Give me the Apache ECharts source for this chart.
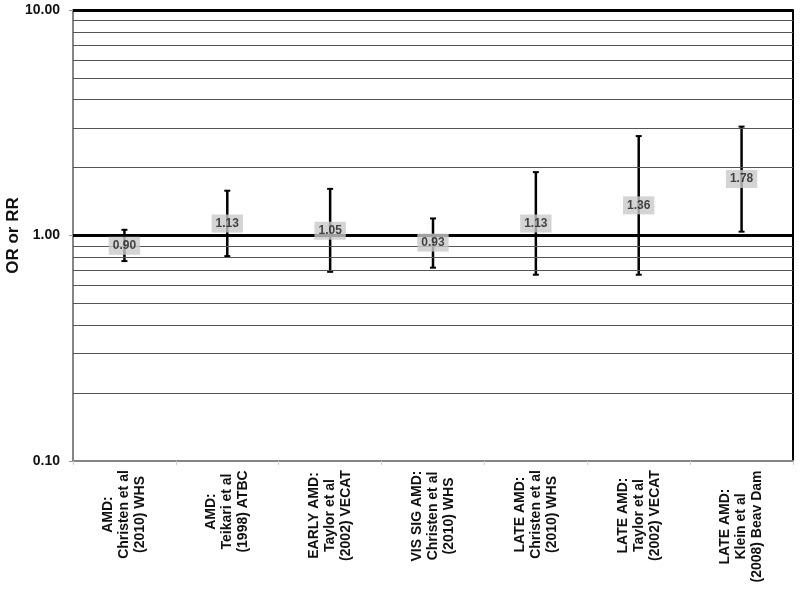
<!DOCTYPE html>
<html>
<head>
<meta charset="utf-8">
<script src="https://cdn.jsdelivr.net/npm/echarts@6/dist/echarts.min.js"></script>
<style>
html,body{margin:0;padding:0;background:#fff;}
#chart{width:800px;height:589px;}
</style>
</head>
<body>
<div id="chart"></div>
<script>
// ---- data ----
const categories = [
  "AMD:\nChristen et al\n(2010) WHS",
  "AMD:\nTeikari et al\n(1998) ATBC",
  "EARLY AMD:\nTaylor et al\n(2002) VECAT",
  "VIS SIG AMD:\nChristen et al\n(2010) WHS",
  "LATE AMD:\nChristen et al\n(2010) WHS",
  "LATE AMD:\nTaylor et al\n(2002) VECAT",
  "LATE AMD:\nKlein et al\n(2008) Beav Dam"
];
const estimates = [0.90, 1.13, 1.05, 0.93, 1.13, 1.36, 1.78];
const lowerCI   = [0.77, 0.81, 0.69, 0.72, 0.67, 0.67, 1.04];
const upperCI   = [1.06, 1.58, 1.61, 1.19, 1.91, 2.76, 3.04];
const minorGrid = [0.2, 0.3, 0.4, 0.5, 0.6, 0.7, 0.8, 0.9, 2, 3, 4, 5, 6, 7, 8, 9];
const majorGrid = [1, 10];
const yAxisName = "OR or RR";

// ---- rendering ----
const FONT = '"Liberation Sans", Arial, Helvetica, sans-serif';
const ctx = document.createElement('canvas').getContext('2d');
ctx.font = 'bold 14px ' + FONT;
const rich = {};
categories.forEach((c, i) => {
  const w = Math.max(...c.split('\n').map(l => ctx.measureText(l).width));
  rich['c' + i] = {
    width: Math.ceil(w), align: 'center', fontSize: 14, fontWeight: 'bold',
    fontFamily: FONT, color: '#111', lineHeight: 16
  };
});

const chart = echarts.init(document.getElementById('chart'), null, {renderer: 'canvas'});
const option = {
  animation: false,
  backgroundColor: '#fff',
  grid: {left: 73, right: 7, top: 10, bottom: 128, containLabel: false, outerBoundsMode: 'none'},
  xAxis: {
    type: 'category',
    data: categories,
    boundaryGap: true,
    axisLine: {lineStyle: {color: '#858585', width: 2}},
    axisTick: {show: true, length: 4, lineStyle: {color: '#cfcfcf', width: 1}},
    axisLabel: {
      rotate: 90, margin: 9, interval: 0,
      formatter: (v, i) => v.split('\n').map(l => '{c' + i + '|' + l + '}').join('\n'),
      rich: rich
    },
    splitLine: {show: false}
  },
  yAxis: [{
    type: 'log', logBase: 10, min: 0.1, max: 10, interval: 1,
    name: yAxisName, nameLocation: 'middle', nameRotate: 90, nameGap: 51,
    nameMoveOverlap: false,
    nameTextStyle: {fontSize: 17, fontWeight: 'bold', fontFamily: FONT, color: '#111'},
    axisLine: {show: true, lineStyle: {color: '#858585', width: 2}},
    axisTick: {show: true, length: 4, lineStyle: {color: '#999', width: 1}},
    axisLabel: {
      margin: 13, fontSize: 14, fontWeight: 'bold', fontFamily: FONT, color: '#111',
      formatter: v => Number(v).toFixed(2)
    },
    splitLine: {show: false}
  }, {
    type: 'log', logBase: 10, min: 0.1, max: 10, interval: 1, position: 'right',
    axisLine: {show: true, lineStyle: {color: '#000', width: 2}},
    axisTick: {show: false}, axisLabel: {show: false}, splitLine: {show: false}
  }],
  series: [
    {
      type: 'line', data: [], z: 1, silent: true,
      markLine: {
        silent: true, symbol: ['none', 'none'], label: {show: false}, animation: false,
        data: minorGrid.map(v => ({yAxis: v, lineStyle: {color: '#555', width: 1, type: 'solid'}}))
          .concat(majorGrid.map(v => ({yAxis: v, lineStyle: {color: '#000', width: 3, type: 'solid'}})))
      }
    },
    {
      type: 'custom', z: 3, silent: true,
      data: categories.map((c, i) => [i, lowerCI[i], upperCI[i]]),
      renderItem: (params, api) => {
        const lo = api.coord([api.value(0), api.value(1)]);
        const hi = api.coord([api.value(0), api.value(2)]);
        const cap = 3;
        const st = {stroke: '#000', lineWidth: 2.5};
        return {
          type: 'group',
          children: [
            {type: 'line', shape: {x1: hi[0], y1: hi[1], x2: lo[0], y2: lo[1]}, style: st},
            {type: 'line', shape: {x1: hi[0] - cap, y1: hi[1], x2: hi[0] + cap, y2: hi[1]}, style: {stroke: '#000', lineWidth: 2}},
            {type: 'line', shape: {x1: lo[0] - cap, y1: lo[1], x2: lo[0] + cap, y2: lo[1]}, style: {stroke: '#000', lineWidth: 2}}
          ]
        };
      }
    },
    {
      type: 'scatter', z: 5, silent: true,
      data: categories.map((c, i) => [i, estimates[i]]),
      symbolSize: 0,
      label: {
        show: true, position: 'inside',
        formatter: p => p.value[1].toFixed(2),
        fontSize: 12, fontWeight: 'bold', fontFamily: FONT, color: '#1a1a1a',
        backgroundColor: '#c9c9c9', padding: [3, 4, 2, 4], lineHeight: 13
      }
    }
  ]
};
chart.setOption(option);
</script>
</body>
</html>
